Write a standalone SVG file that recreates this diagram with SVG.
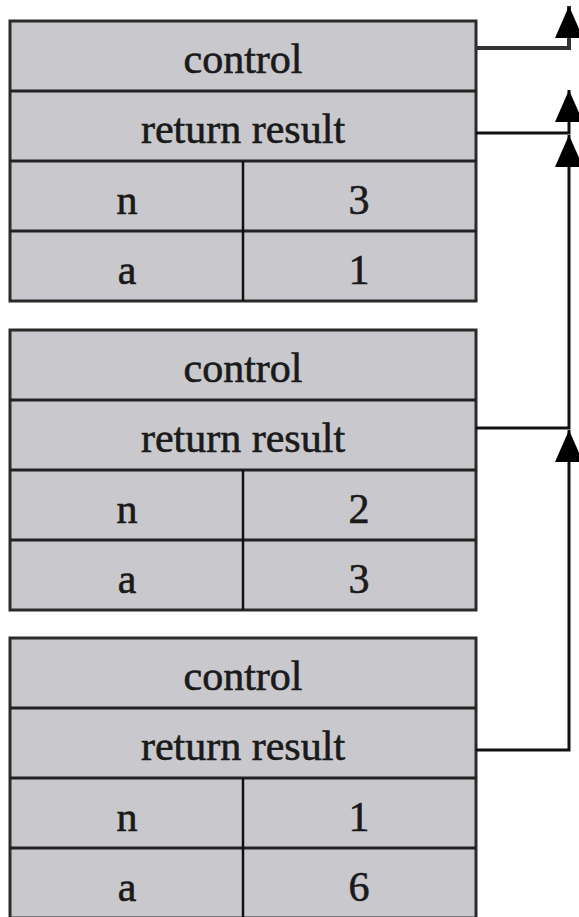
<svg xmlns="http://www.w3.org/2000/svg" width="579" height="917" viewBox="0 0 579 917">
<defs>
<style>
.cell{fill:#c9c8cc;stroke:#2a2a2a;stroke-width:3}
.sep{stroke:#222;stroke-width:3}
.col{stroke:#111;stroke-width:2.5}
.t{font-family:"Liberation Serif","Times New Roman",serif;font-size:42px;fill:#1a1a1a;stroke:#1a1a1a;stroke-width:0.6;text-anchor:middle}
.conn{fill:none;stroke:#111;stroke-width:3}
</style>
<marker id="ah" viewBox="0 0 32 28" refX="32" refY="14" markerWidth="32" markerHeight="28" markerUnits="userSpaceOnUse" orient="auto">
<path d="M0,0 L32,14 L0,28 z" fill="#000"/>
</marker>
</defs>
<rect width="579" height="917" fill="#fff"/>

<g id="frame1">
<rect class="cell" x="10" y="21" width="466" height="280"/>
<line class="sep" x1="10" y1="91" x2="476" y2="91"/>
<line class="sep" x1="10" y1="161" x2="476" y2="161"/>
<line class="sep" x1="10" y1="231" x2="476" y2="231"/>
<line class="col" x1="243" y1="161" x2="243" y2="301"/>
<text class="t" x="243" y="73">control</text>
<text class="t" x="243" y="143">return result</text>
<text class="t" x="127" y="214">n</text>
<text class="t" x="359" y="214">3</text>
<text class="t" x="127" y="284">a</text>
<text class="t" x="359" y="284">1</text>
</g>

<g id="frame2">
<rect class="cell" x="10" y="330" width="466" height="280"/>
<line class="sep" x1="10" y1="400" x2="476" y2="400"/>
<line class="sep" x1="10" y1="470" x2="476" y2="470"/>
<line class="sep" x1="10" y1="540" x2="476" y2="540"/>
<line class="col" x1="243" y1="470" x2="243" y2="610"/>
<text class="t" x="243" y="382">control</text>
<text class="t" x="243" y="452">return result</text>
<text class="t" x="127" y="523">n</text>
<text class="t" x="359" y="523">2</text>
<text class="t" x="127" y="593">a</text>
<text class="t" x="359" y="593">3</text>
</g>

<g id="frame3">
<rect class="cell" x="10" y="638" width="466" height="280"/>
<line class="sep" x1="10" y1="708" x2="476" y2="708"/>
<line class="sep" x1="10" y1="778" x2="476" y2="778"/>
<line class="sep" x1="10" y1="848" x2="476" y2="848"/>
<line class="col" x1="243" y1="778" x2="243" y2="918"/>
<text class="t" x="243" y="690">control</text>
<text class="t" x="243" y="760">return result</text>
<text class="t" x="127" y="831">n</text>
<text class="t" x="359" y="831">1</text>
<text class="t" x="127" y="901">a</text>
<text class="t" x="359" y="901">6</text>
</g>

<g id="connectors">
<path class="conn" style="stroke-width:4;stroke:#333" d="M476,48 H569 V6" marker-end="url(#ah)"/>
<path class="conn" d="M476,133 H569 V90" marker-end="url(#ah)"/>
<path class="conn" d="M476,428 H569 V135" marker-end="url(#ah)"/>
<path class="conn" d="M476,750 H569 V430" marker-end="url(#ah)"/>
</g>
</svg>
